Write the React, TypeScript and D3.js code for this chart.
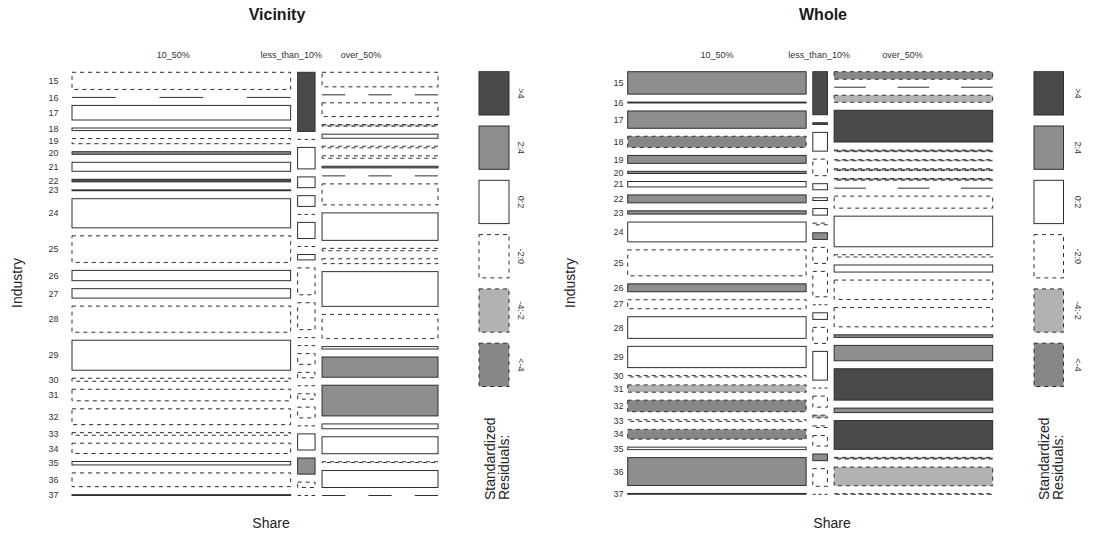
import React from "react";
import * as d3 from "d3";

const industries = ["15", "16", "17", "18", "19", "20", "21", "22", "23", "24", "25", "26",
  "27", "28", "29", "30", "31", "32", "33", "34", "35", "36", "37"];
const shareLevels = ["10_50%", "less_than_10%", "over_50%"];
const residualBins = [">4", "2:4", "0:2", "-2:0", "-4:-2", "<-4"];

// cell frequencies, one entry per industry (15..37)
const vicinity1050 = [40, 0, 34, 6, 12, 6, 21, 6, 2, 68, 62, 24, 22, 61, 70, 7, 27, 37, 6, 24, 8, 32, 2];
const vicinityLt10 = [11, 0, 4, 2, 2, 0, 3, 0, 1, 5, 5, 0, 0, 2, 1, 0, 1, 2, 0, 3, 3, 1, 0];
const vicinityOver50 = [18, 0, 17, 2, 5, 2, 3, 2, 0, 26, 34, 3, 6, 43, 30, 3, 25, 38, 6, 21, 1, 21, 0];

const whole1050 = [496, 19, 383, 247, 175, 48, 120, 175, 72, 438, 575, 175, 199, 479, 470, 29, 161, 256, 36, 216, 55, 616, 19];
const wholeLt10 = [78, 3, 34, 30, 11, 5, 12, 3, 12, 29, 46, 0, 12, 29, 52, 0, 20, 5, 3, 19, 12, 32, 0];
const wholeOver50 = [148, 0, 139, 624, 33, 22, 33, 33, 0, 236, 602, 44, 139, 381, 381, 51, 302, 617, 88, 566, 33, 368, 11];

// standardized residual class of each cell
const vicinityRes1050 = ["-2:0", "-2:0", "0:2", "0:2", "-2:0", "2:4", "0:2", ">4", "0:2", "0:2", "-2:0", "0:2",
  "0:2", "-2:0", "0:2", "-2:0", "-2:0", "-2:0", "-2:0", "-2:0", "0:2", "-2:0", "0:2"];
const vicinityResLt10 = [">4", "-2:0", "0:2", "0:2", "0:2", "-2:0", "0:2", "-2:0", "0:2", "-2:0", "-2:0", "-2:0",
  "-2:0", "-2:0", "-2:0", "-2:0", "-2:0", "-2:0", "-2:0", "0:2", "2:4", "-2:0", "-2:0"];
const vicinityResOver50 = ["-2:0", "-2:0", "-2:0", "-4:-2", "0:2", "-2:0", "-2:0", "2:4", "-2:0", "-2:0", "0:2", "-2:0",
  "-2:0", "0:2", "-2:0", "0:2", "2:4", "2:4", "0:2", "0:2", "-2:0", "0:2", "-2:0"];

const wholeRes1050 = ["2:4", "0:2", "2:4", "<-4", "2:4", "2:4", "0:2", "2:4", "2:4", "0:2", "-2:0", "2:4",
  "-2:0", "0:2", "0:2", "-2:0", "-4:-2", "<-4", "-2:0", "<-4", "0:2", "2:4", "0:2"];
const wholeResLt10 = [">4", ">4", "0:2", "-2:0", "0:2", "0:2", "0:2", "-2:0", "2:4", "-2:0", "-2:0", "-2:0",
  "0:2", "-2:0", "0:2", "-2:0", "-2:0", "-4:-2", "-2:0", "-2:0", "2:4", "-2:0", "-2:0"];
const wholeResOver50 = ["<-4", "-2:0", "-4:-2", ">4", "<-4", "-4:-2", "<-4", "<-4", "-2:0", "-2:0", "0:2", "-2:0",
  "0:2", "-2:0", "-2:0", "2:4", "2:4", ">4", "2:4", ">4", "<-4", "-4:-2", "-2:0"];

const binFill: Record<string, string> = {
  ">4": "#4a4a4a",
  "2:4": "#8e8e8e",
  "0:2": "#ffffff",
  "-2:0": "#ffffff",
  "-4:-2": "#b2b2b2",
  "<-4": "#878787",
};
const isNegative = (b: string) => b.startsWith("-") || b.startsWith("<");

const STROKE = "#2e2e2e";
const FONT = "'Liberation Sans', Arial, Helvetica, sans-serif";

const panels = [
  {
    title: "Vicinity", cols: [vicinity1050, vicinityLt10, vicinityOver50],
    res: [vicinityRes1050, vicinityResLt10, vicinityResOver50],
    x0: 72, x1: 438, y0: 72.3, y1: 495.5, gx: 7, gy: 8,
    rowLabelX: 58.5, headNudge: [-8, -15, -19], titleX: 277,
    industryX: 22, shareX: 271, legendX: 479, legendW: 30, legendLabelX: 521.5, stdX: 509,
  },
  {
    title: "Whole", cols: [whole1050, wholeLt10, wholeOver50],
    res: [wholeRes1050, wholeResLt10, wholeResOver50],
    x0: 627.7, x1: 992.7, y0: 71.7, y1: 494.3, gx: 6.7, gy: 8,
    rowLabelX: 623.5, headNudge: [0, -1, -11], titleX: 823,
    industryX: 575, shareX: 832, legendX: 1034, legendW: 29.5, legendLabelX: 1078, stdX: 1063,
  },
];

function Mosaic({ p }: { p: (typeof panels)[number] }) {
  const sums = p.cols.map((c) => d3.sum(c));
  const total = d3.sum(sums);
  const wAvail = p.x1 - p.x0 - p.gx * (p.cols.length - 1);
  const hAvail = p.y1 - p.y0 - p.gy * (industries.length - 1);
  const xw = d3.scaleLinear().domain([0, total]).range([0, wAvail]);

  let cx = p.x0;
  const columns = p.cols.map((vals, j) => {
    const w = xw(sums[j]);
    const hs = d3.scaleLinear().domain([0, sums[j]]).range([0, hAvail]);
    let cy = p.y0;
    const cells = vals.map((v, i) => {
      const c = { x: cx, y: cy, w, h: hs(v), v, bin: p.res[j][i] };
      cy += hs(v) + p.gy;
      return c;
    });
    const col = { x: cx, w, cells };
    cx += w + p.gx;
    return col;
  });

  const legendTop = 71.7;
  const legendStep = 54.3;
  const legendH = 43.3;

  return (
    <g fontFamily={FONT}>
      <text x={p.titleX} y={20} textAnchor="middle" fontSize={16} fontWeight="bold" fill="#1a1a1a">
        {p.title}
      </text>
      {columns.map((col, j) => (
        <text key={"h" + j} x={col.x + col.w / 2 + p.headNudge[j]} y={58} textAnchor="middle" fontSize={9} fill="#333">
          {shareLevels[j]}
        </text>
      ))}
      {columns[0].cells.map((c, i) => (
        <text key={"r" + i} x={p.rowLabelX} y={c.y + c.h / 2} dy="0.35em" textAnchor="end" fontSize={9} fill="#333">
          {industries[i]}
        </text>
      ))}
      {columns.map((col, j) =>
        col.cells.map((c, i) =>
          c.v === 0 ? (
            <line key={`z${j}-${i}`} x1={c.x} x2={c.x + c.w} y1={c.y} y2={c.y}
              stroke={STROKE} strokeWidth={1} strokeDasharray={`${c.w / 5}`} />
          ) : (
            <rect key={`c${j}-${i}`} x={c.x} y={c.y} width={c.w} height={c.h}
              fill={binFill[c.bin]} stroke={STROKE} strokeWidth={1}
              strokeDasharray={isNegative(c.bin) ? "4 4" : undefined} />
          )
        )
      )}
      <text transform={`translate(${p.industryX},283) rotate(-90)`} textAnchor="middle" fontSize={14} fill="#222">
        Industry
      </text>
      <text x={p.shareX} y={528} textAnchor="middle" fontSize={14} fill="#222">
        Share
      </text>
      {residualBins.map((b, k) => {
        const y = legendTop + k * legendStep;
        return (
          <g key={"l" + k}>
            <rect x={p.legendX} y={y} width={p.legendW} height={legendH} fill={binFill[b]}
              stroke={STROKE} strokeWidth={1} strokeDasharray={isNegative(b) ? "4 4" : undefined} />
            <text transform={`translate(${p.legendLabelX},${y + legendH / 2}) rotate(90)`} dy="0.35em"
              textAnchor="middle" fontSize={9} fill="#333">
              {b}
            </text>
          </g>
        );
      })}
      <text transform={`translate(${p.stdX - 14},500) rotate(-90)`} fontSize={14} fill="#222">
        Standardized
      </text>
      <text transform={`translate(${p.stdX},500) rotate(-90)`} fontSize={14} fill="#222">
        Residuals:
      </text>
    </g>
  );
}

export default function App() {
  return (
    <svg width={1097} height={535} style={{ position: "absolute", left: 0, top: 0, background: "#fff" }}>
      <rect width={1097} height={535} fill="#fff" />
      {panels.map((p) => (
        <Mosaic key={p.title} p={p} />
      ))}
    </svg>
  );
}
